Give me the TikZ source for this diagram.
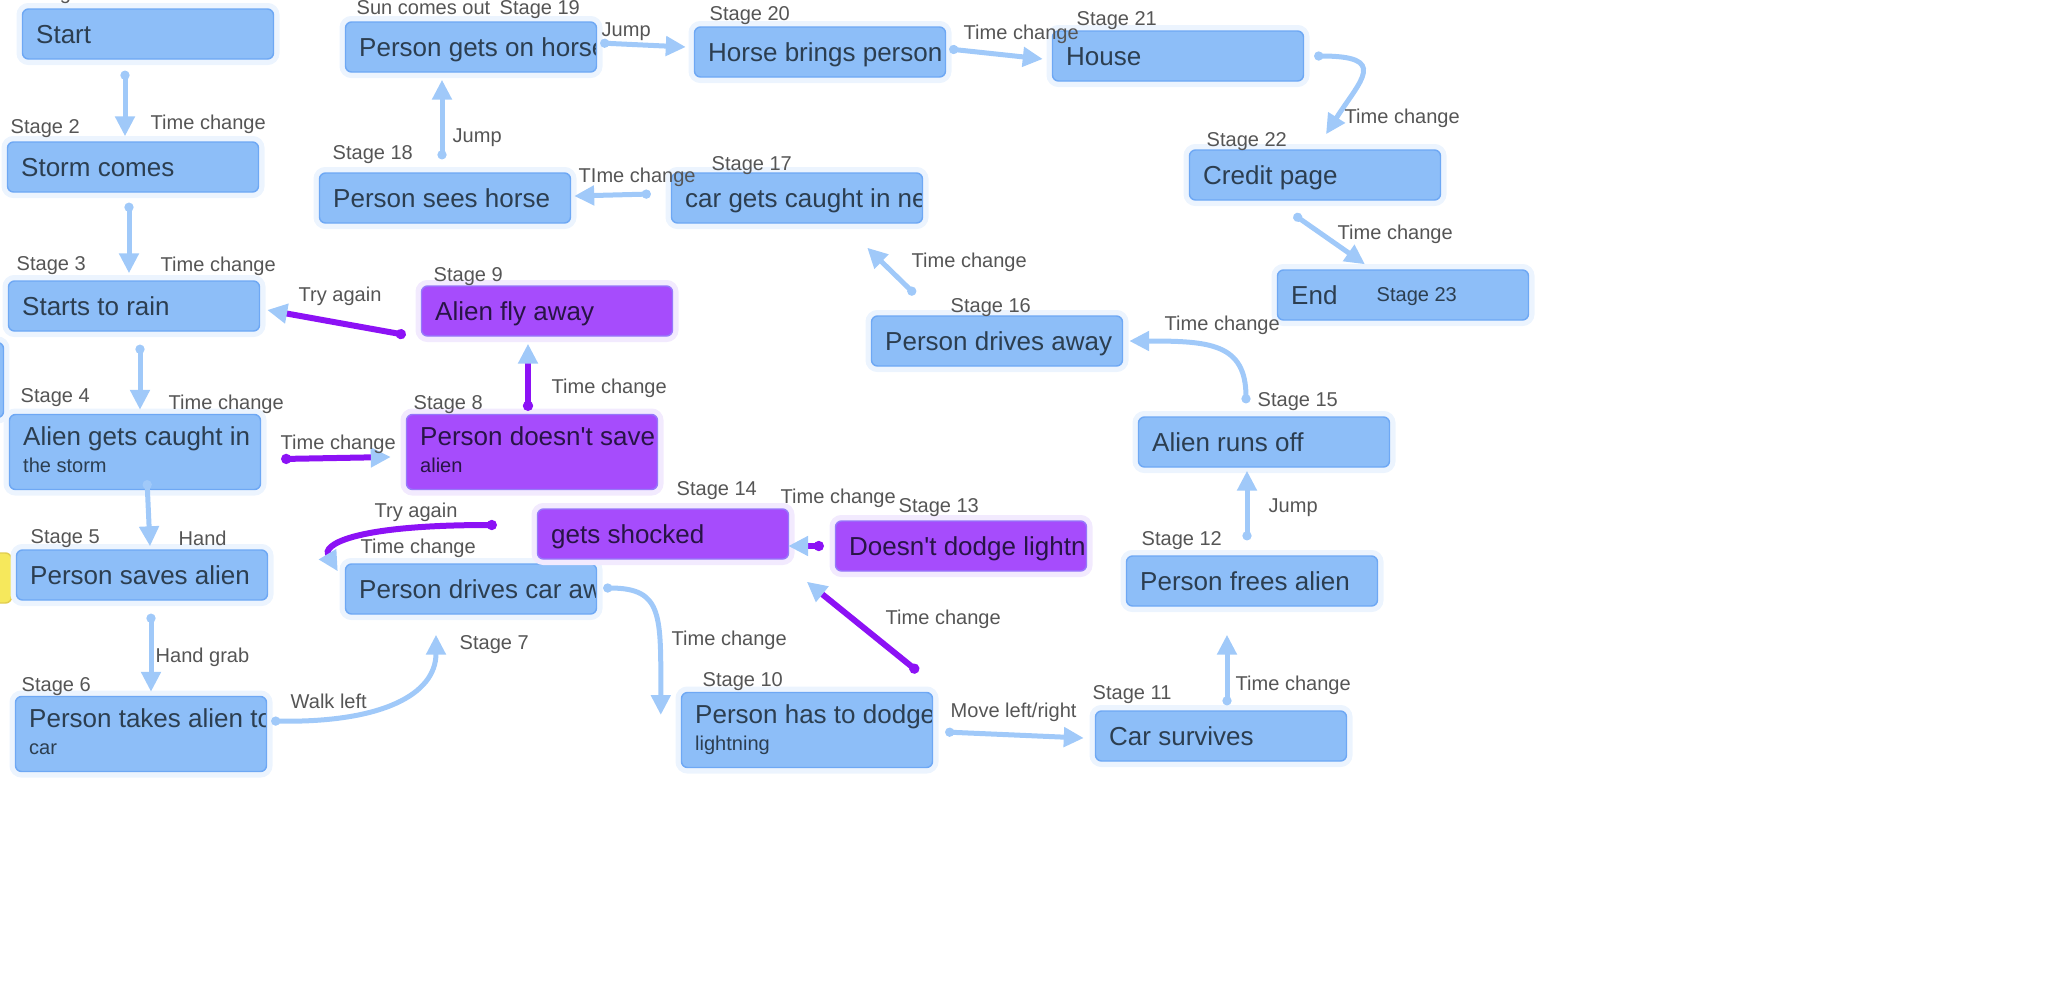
\documentclass[tikz,border=0pt]{standalone}
\usepackage{fontspec}
\setmainfont{Liberation Sans}
\usetikzlibrary{arrows.meta,calc}
\definecolor{boxfill}{RGB}{141,190,248}
\definecolor{boxline}{RGB}{110,168,244}
\definecolor{boxglow}{RGB}{236,244,254}
\definecolor{boxtext}{RGB}{44,62,80}
\definecolor{alienfill}{RGB}{166,76,252}
\definecolor{alienline}{RGB}{150,120,250}
\definecolor{alienglow}{RGB}{242,234,254}
\definecolor{alientext}{RGB}{40,20,70}
\definecolor{lblgrey}{RGB}{85,85,85}
\definecolor{strblue}{RGB}{160,201,249}
\definecolor{strpurple}{RGB}{140,18,245}
\definecolor{yfill}{RGB}{246,232,92}
\definecolor{yline}{RGB}{225,205,80}
\tikzset{
  txt/.style={anchor=base west,inner sep=0pt,minimum size=0pt,draw=none,fill=none,
              font=\fontsize{7.4}{9}\selectfont},
  subtxt/.style={anchor=base west,inner sep=0pt,minimum size=0pt,draw=none,fill=none,
                 font=\fontsize{5.7}{7}\selectfont},
  lbl/.style={anchor=base west,inner sep=0pt,text=lblgrey,font=\fontsize{5.7}{7}\selectfont},
  kbase/.style={rounded corners=0.6mm,line width=0.4pt,inner sep=0pt,
                minimum width=25.1mm,minimum height=5mm},
  stage/.style={kbase,draw=boxline,fill=boxfill,preaction={draw=boxglow,line width=1.2mm},
    path picture={\node[txt,text=boxtext] at ($(path picture bounding box.west)+(13,9)$) {#1};}},
  stagetwo/.style 2 args={kbase,minimum height=7.5mm,draw=boxline,fill=boxfill,
    preaction={draw=boxglow,line width=1.2mm},
    path picture={\node[txt,text=boxtext] at ($(path picture bounding box.north west)+(13,31)$) {#1};
                  \node[subtxt,text=boxtext] at ($(path picture bounding box.north west)+(13,58)$) {#2};}},
  alien/.style={kbase,draw=alienline,fill=alienfill,preaction={draw=alienglow,line width=1.2mm},
    path picture={\node[txt,text=alientext] at ($(path picture bounding box.west)+(13,9)$) {#1};}},
  alientwo/.style 2 args={kbase,minimum height=7.5mm,draw=alienline,fill=alienfill,
    preaction={draw=alienglow,line width=1.2mm},
    path picture={\node[txt,text=alientext] at ($(path picture bounding box.north west)+(13,31)$) {#1};
                  \node[subtxt,text=alientext] at ($(path picture bounding box.north west)+(13,58)$) {#2};}},
  str/.style={draw=strblue,line width=0.5mm,{Circle[length=0.9mm]}-{Triangle[length=2mm,width=1.9mm]}},
  pstr/.style={draw=strpurple,line width=0.6mm,
    {Circle[length=1mm]}-{Triangle[length=2mm,width=1.9mm,color=strblue]}},
}
\begin{document}
\begin{tikzpicture}[x=0.1mm,y=-0.1mm]
  \useasboundingbox (0,0) rectangle (2058,1003);

  % ---------- STAGES ----------
  \node[stagetwo={}{}] (s0) at (-122,380) {};
  \node[kbase,draw=yline,fill=yfill] (y0) at (-114,578) {};
  \node[stage={Start}] (s1) at (148,34) {};
  \node[stage={Storm comes}] (s2) at (133,167) {};
  \node[stage={Starts to rain}] (s3) at (134,306) {};
  \node[stagetwo={Alien gets caught in}{the storm}] (s4) at (135,452) {};
  \node[stage={Person saves alien}] (s5) at (142,575) {};
  \node[stagetwo={Person takes alien to}{car}] (s6) at (141,734) {};
  \node[stage={Person drives car away}] (s7) at (471,589) {};
  \node[alientwo={Person doesn\textquotesingle t save}{alien}] (s8) at (532,452) {};
  \node[alien={Alien fly away}] (s9) at (547,311) {};
  \node[stagetwo={Person has to dodge}{lightning}] (s10) at (807,730) {};
  \node[stage={Car survives}] (s11) at (1221,736) {};
  \node[stage={Person frees alien}] (s12) at (1252,581) {};
  \node[alien={Doesn\textquotesingle t dodge lightning}] (s13) at (961,546) {};
  \node[alien={gets shocked}] (s14) at (663,534) {};
  \node[stage={Alien runs off}] (s15) at (1264,442) {};
  \node[stage={Person drives away}] (s16) at (997,341) {};
  \node[stage={car gets caught in next}] (s17) at (797,198) {};
  \node[stage={Person sees horse}] (s18) at (445,198) {};
  \node[stage={Person gets on horse}] (s19) at (471,47) {};
  \node[stage={Horse brings person}] (s20) at (820,52) {};
  \node[stage={House}] (s21) at (1178,56) {};
  \node[stage={Credit page}] (s22) at (1315,175) {};
  \node[stage={End}] (s23) at (1403,295) {};

  % ---------- STAGE LABELS ----------
  \node[lbl] (l1) at (29,-1) {Stage 1};
  \node[lbl] (l2) at (10,133) {Stage 2};
  \node[lbl] (l3) at (16,270) {Stage 3};
  \node[lbl] (l4) at (20,402) {Stage 4};
  \node[lbl] (l5) at (30,543) {Stage 5};
  \node[lbl] (l6) at (21,691) {Stage 6};
  \node[lbl] (l7) at (459,649) {Stage 7};
  \node[lbl] (l8) at (413,409) {Stage 8};
  \node[lbl] (l9) at (433,281) {Stage 9};
  \node[lbl] (l10) at (702,686) {Stage 10};
  \node[lbl] (l11) at (1092,699) {Stage 11};
  \node[lbl] (l12) at (1141,545) {Stage 12};
  \node[lbl] (l13) at (898,512) {Stage 13};
  \node[lbl] (l14) at (676,495) {Stage 14};
  \node[lbl] (l15) at (1257,406) {Stage 15};
  \node[lbl] (l16) at (950,312) {Stage 16};
  \node[lbl] (l17) at (711,170) {Stage 17};
  \node[lbl] (l18) at (332,159) {Stage 18};
  \node[lbl] (l19a) at (356,14) {Sun comes out};
  \node[lbl] (l19) at (499,14) {Stage 19};
  \node[lbl] (l20) at (709,20) {Stage 20};
  \node[lbl] (l21) at (1076,25) {Stage 21};
  \node[lbl] (l22) at (1206,146) {Stage 22};
  \node[lbl,text=boxtext] (l23) at (1376,301) {Stage 23};

  % ---------- CONNECTORS ----------
  \draw[str] ($(s1.south)+(-23,11)$) -- ($(s2.north)+(-8,-5)$);
  \draw[str] ($(s2.south)+(-4,10)$) -- ($(s3.north)+(-5,-7)$);
  \draw[str] ($(s3.south)+(6,13)$) -- ($(s4.north)+(5,-4)$);
  \draw[str] ($(s4.south)+(12,-10)$) -- ($(s5.north)+(8,-3)$);
  \draw[str] ($(s5.south)+(9,13)$) -- ($(s6.north)+(10,-4)$);
  \draw[str] ($(s6.east)+(4,-13)$) .. controls +(110,2) and +(0,60) .. ($(s7.south)+(-35,20)$);
  \draw[str] ($(s7.east)+(6,-1)$) .. controls +(60,0) and +(0,-100) .. ($(s10.west)+(-20,-15)$);
  \draw[pstr] ($(s4.east)+(20,7)$) -- ($(s8.west)+(-15,5)$);
  \draw[pstr] ($(s8.north)+(-4,-3)$) -- ($(s9.south)+(-19,7)$);
  \draw[pstr] ($(s9.west)+(-15,24)$) -- ($(s3.east)+(7,4)$);
  \draw[pstr] ($(s14.west)+(-40,-9)$) .. controls +(-150,0) and +(-15,-25) .. ($(s7.north west)+(-7,8)$);
  \draw[pstr] ($(s10.north east)+(-15,-20)$) -- ($(s13.south west)+(-28,10)$);
  \draw[pstr] ($(s13.west)+(-11,0)$) -- ($(s14.east)+(-1,12)$);
  \draw[str] ($(s10.east)+(12,2)$) -- ($(s11.west)+(-11,2)$);
  \draw[str] ($(s11.north)+(6,-5)$) -- ($(s12.south)+(-25,28)$);
  \draw[str] ($(s12.north)+(-5,-15)$) -- ($(s15.south)+(-17,3)$);
  \draw[str] ($(s15.north)+(-18,-13)$) .. controls +(0,-60) and +(80,0) .. ($(s16.east)+(6,0)$);
  \draw[str] ($(s16.north)+(-82,-21)$) -- ($(s17.south east)+(-56,24)$);
  \draw[str] ($(s17.west)+(-20,-4)$) -- ($(s18.east)+(3,-2)$);
  \draw[str] ($(s18.north)+(-3,-13)$) -- ($(s19.south)+(-29,7)$);
  \draw[str] ($(s19.east)+(3,-4)$) -- ($(s20.west)+(-8,-5)$);
  \draw[str] ($(s20.east)+(3,-3)$) -- ($(s21.west)+(-9,3)$);
  \draw[str] ($(s21.east)+(10,0)$) .. controls +(75,0) and +(35,-55) .. ($(s22.north)+(11,-15)$);
  \draw[str] ($(s22.south)+(-21,14)$) -- ($(s23.north)+(-38,-5)$);

  % ---------- CONNECTOR LABELS ----------
  \node[lbl] (t12) at (150,129) {Time change};
  \node[lbl] (t23) at (160,271) {Time change};
  \node[lbl] (t34) at (168,409) {Time change};
  \node[lbl] (t45) at (178,545) {Hand};
  \node[lbl] (t56) at (155,662) {Hand grab};
  \node[lbl] (t67) at (290,708) {Walk left};
  \node[lbl] (t710) at (671,645) {Time change};
  \node[lbl] (t48) at (280,449) {Time change};
  \node[lbl] (t89) at (551,393) {Time change};
  \node[lbl] (t93) at (298,301) {Try again};
  \node[lbl] (t147) at (374,517) {Try again};
  \node[lbl] (t7) at (360,553) {Time change};
  \node[lbl] (t1013) at (885,624) {Time change};
  \node[lbl] (t1314) at (780,503) {Time change};
  \node[lbl] (t1011) at (950,717) {Move left/right};
  \node[lbl] (t1112) at (1235,690) {Time change};
  \node[lbl] (t1215) at (1268,512) {Jump};
  \node[lbl] (t1516) at (1164,330) {Time change};
  \node[lbl] (t1617) at (911,267) {Time change};
  \node[lbl] (t1718) at (578,182) {TIme change};
  \node[lbl] (t1819) at (452,142) {Jump};
  \node[lbl] (t1920) at (601,36) {Jump};
  \node[lbl] (t2021) at (963,39) {Time change};
  \node[lbl] (t2122) at (1344,123) {Time change};
  \node[lbl] (t2223) at (1337,239) {Time change};

\end{tikzpicture}
\end{document}
